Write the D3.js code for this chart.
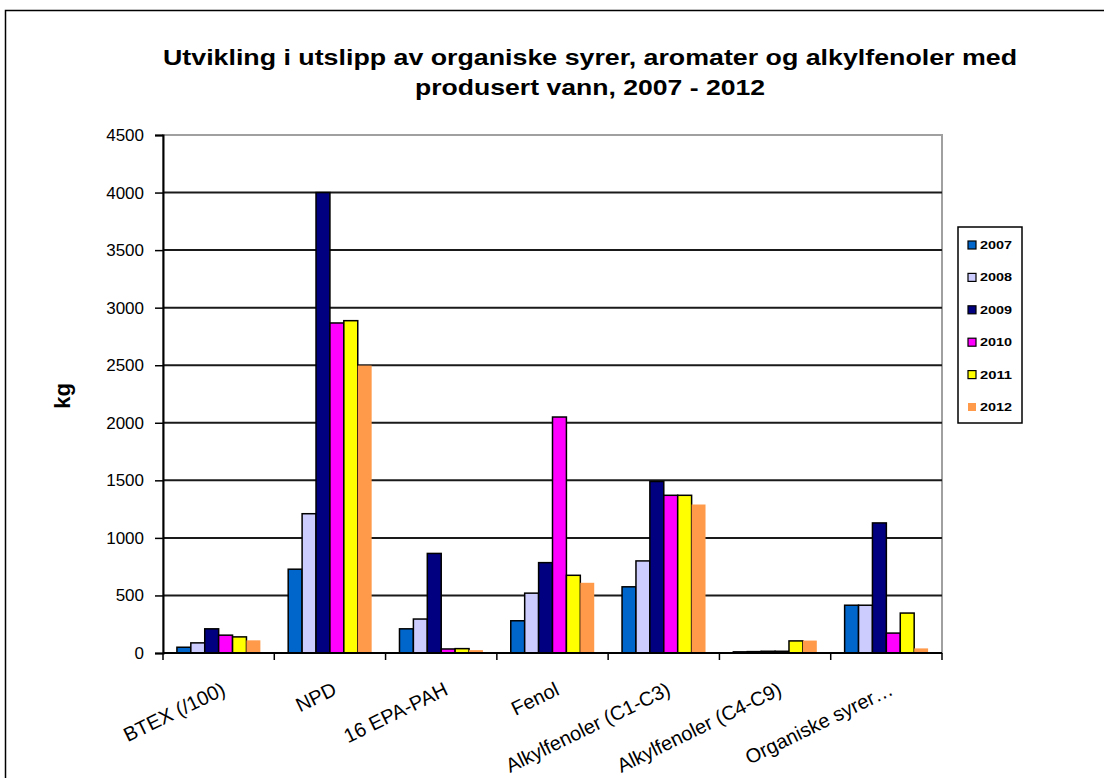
<!DOCTYPE html>
<html>
<head>
<meta charset="utf-8">
<script src="https://cdn.jsdelivr.net/npm/d3@7"></script>
<style>
  html, body { margin: 0; padding: 0; background: #fff; }
  svg { display: block; }
  text { font-family: "Liberation Sans", Arial, sans-serif; }
</style>
</head>
<body>
<svg id="chart" width="1104" height="778"></svg>
<script>
// Emission categories (BTEX shown divided by 100)
const categories = ["BTEX (/100)", "NPD", "16 EPA-PAH", "Fenol",
  "Alkylfenoler (C1-C3)", "Alkylfenoler (C4-C9)", "Organiske syrer…"];
const years = ["2007", "2008", "2009", "2010", "2011", "2012"];

// Discharges in kg per year, one value per category
const v2007 = [50, 728, 210, 280, 575, 10, 415];
const v2008 = [88, 1210, 295, 520, 800, 12, 415];
const v2009 = [210, 4000, 865, 785, 1490, 15, 1130];
const v2010 = [155, 2867, 35, 2050, 1370, 15, 173];
const v2011 = [140, 2887, 38, 675, 1370, 105, 347];
const v2012 = [110, 2497, 25, 610, 1290, 108, 40];

const yTicks = [0, 500, 1000, 1500, 2000, 2500, 3000, 3500, 4000, 4500];
const seriesValues = [v2007, v2008, v2009, v2010, v2011, v2012];
const colors = ["#0066CC", "#CCCCFF", "#000080", "#FF00FF", "#FFFF00", "#FF9A4A"];
const strokes = ["#000", "#000", "#000", "#000", "#000", "none"];

const svg = d3.select("#chart");

// Outer chart frame
svg.append("rect")
  .attr("x", 5.5).attr("y", 10.5)
  .attr("width", 1200).attr("height", 900)
  .attr("fill", "#fff").attr("stroke", "#000").attr("stroke-width", 1.5);

// Title (two lines, stretched to the wide Excel-style rendering)
const title = svg.append("g")
  .attr("font-weight", "bold")
  .attr("font-size", 22)
  .attr("fill", "#000");
title.append("text")
  .attr("x", 590).attr("y", 65)
  .attr("text-anchor", "middle")
  .attr("textLength", 854).attr("lengthAdjust", "spacingAndGlyphs")
  .attr("font-weight", "bold").attr("font-size", 22)
  .text("Utvikling i utslipp  av organiske syrer, aromater og alkylfenoler med");
title.append("text")
  .attr("x", 590).attr("y", 95)
  .attr("text-anchor", "middle")
  .attr("textLength", 350).attr("lengthAdjust", "spacingAndGlyphs")
  .attr("font-weight", "bold").attr("font-size", 22)
  .text("produsert  vann, 2007  - 2012");

// Plot area
const plotLeft = 163, plotRight = 942, plotTop = 135, plotBottom = 653;

const x0 = d3.scaleBand().domain(categories).range([plotLeft, plotRight]).paddingInner(0).paddingOuter(0);
const bw = x0.bandwidth();
const x1 = d3.scaleBand().domain(years).range([bw / 8, bw - bw / 8]);
const y = d3.scaleLinear().domain([0, 4500]).range([plotBottom, plotTop]);

// Plot border (grey top/right)
svg.append("rect")
  .attr("x", plotLeft).attr("y", plotTop)
  .attr("width", plotRight - plotLeft).attr("height", plotBottom - plotTop)
  .attr("fill", "none").attr("stroke", "#a0a0a0").attr("stroke-width", 2);

// Horizontal gridlines
svg.append("g")
  .selectAll("line")
  .data(yTicks.filter(t => t > 0 && t < 4500))
  .join("line")
  .attr("x1", plotLeft).attr("x2", plotRight)
  .attr("y1", d => y(d)).attr("y2", d => y(d))
  .attr("stroke", "#1a1a1a").attr("stroke-width", 2);

// Bars
const groups = svg.append("g")
  .selectAll("g")
  .data(years)
  .join("g");

groups.each(function(year, si) {
  d3.select(this).selectAll("rect")
    .data(seriesValues[si].map((v, ci) => ({ cat: categories[ci], v })))
    .join("rect")
    .attr("x", d => x0(d.cat) + x1(year))
    .attr("y", d => y(d.v))
    .attr("width", x1.bandwidth())
    .attr("height", d => y(0) - y(d.v))
    .attr("fill", colors[si])
    .attr("stroke", strokes[si])
    .attr("stroke-width", 1.5);
});

// Y axis
const yAxis = svg.append("g")
  .attr("transform", `translate(${plotLeft},0)`)
  .call(d3.axisLeft(y).tickValues(yTicks).tickSize(8).tickPadding(11).tickFormat(d3.format("d")));
yAxis.select(".domain").attr("stroke", "#000").attr("stroke-width", 2);
yAxis.selectAll(".tick line").attr("stroke", "#000").attr("stroke-width", 1.5);
yAxis.selectAll(".tick text")
  .attr("font-size", 17)
  .attr("font-family", "'Liberation Sans', Arial, sans-serif")
  .attr("fill", "#000");

// X axis with ticks at category boundaries
const xAxisG = svg.append("g").attr("transform", `translate(0,${plotBottom})`);
xAxisG.append("line")
  .attr("x1", plotLeft).attr("x2", plotRight)
  .attr("stroke", "#000").attr("stroke-width", 2);
xAxisG.selectAll("line.tk")
  .data(categories.map(c => x0(c)).concat([plotRight]))
  .join("line")
  .attr("class", "tk")
  .attr("x1", d => d).attr("x2", d => d)
  .attr("y1", 0).attr("y2", 7)
  .attr("stroke", "#000").attr("stroke-width", 1.5);

xAxisG.selectAll("text")
  .data(categories)
  .join("text")
  .attr("text-anchor", "end")
  .attr("font-size", 20)
  .attr("fill", "#000")
  .attr("transform", d => `translate(${x0(d) + bw / 2 + 8},${41}) rotate(-26)`)
  .text(d => d);

// Y axis title
svg.append("text")
  .attr("transform", "translate(70,396) rotate(-90)")
  .attr("text-anchor", "middle")
  .attr("font-weight", "bold")
  .attr("font-size", 22)
  .text("kg");

// Legend
const legend = svg.append("g");
legend.append("rect")
  .attr("x", 958).attr("y", 227)
  .attr("width", 64).attr("height", 196)
  .attr("fill", "#fff").attr("stroke", "#000").attr("stroke-width", 1.5);

const ly = d3.scalePoint().domain(years).range([245, 407]);
const items = legend.selectAll("g.item")
  .data(years)
  .join("g").attr("class", "item")
  .attr("transform", d => `translate(968,${ly(d)})`);
items.append("rect")
  .attr("x", 0).attr("y", -4)
  .attr("width", 8).attr("height", 8)
  .attr("fill", (d, i) => colors[i])
  .attr("stroke", (d, i) => strokes[i])
  .attr("stroke-width", 1.2);
items.append("text")
  .attr("x", 12).attr("y", 4)
  .attr("font-size", 11)
  .attr("font-weight", "bold")
  .attr("textLength", 32)
  .attr("lengthAdjust", "spacingAndGlyphs")
  .text(d => d);
</script>
</body>
</html>
